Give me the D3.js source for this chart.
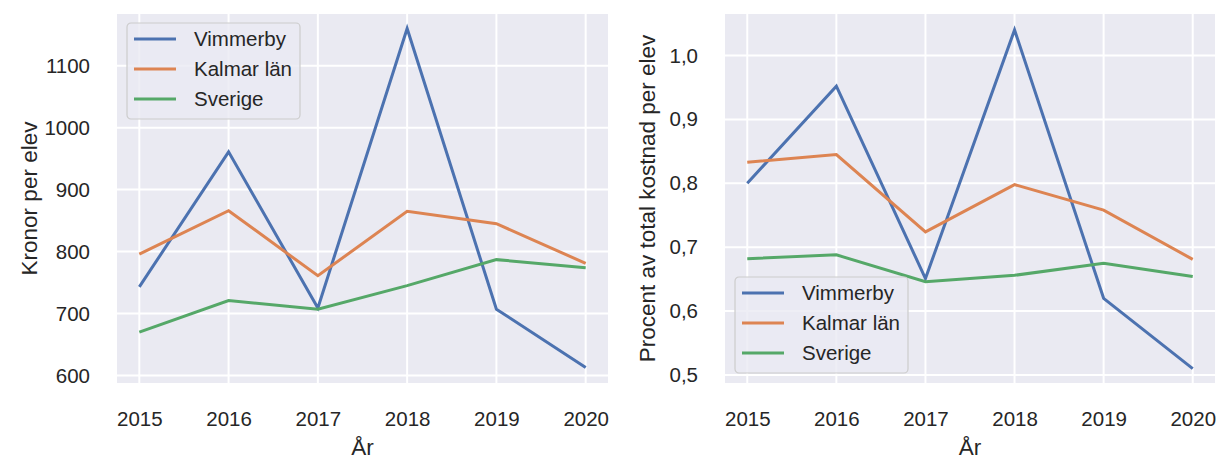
<!DOCTYPE html>
<html>
<head>
<meta charset="utf-8">
<script src="https://cdn.jsdelivr.net/npm/d3@7"></script>
<style>
  body { margin: 0; background: #fff; }
  text { font-family: "Liberation Sans", Arial, sans-serif; fill: #262626; }
</style>
</head>
<body>
<div id="chart"></div>
<script>
const years = [2015, 2016, 2017, 2018, 2019, 2020];
const seriesNames = ["Vimmerby", "Kalmar län", "Sverige"];

const kronorVimmerby = [743, 961, 709, 1160, 707, 613];
const kronorKalmar = [796, 866, 761, 865, 845, 781];
const kronorSverige = [670, 721, 707, 745, 787, 774];

const procentVimmerby = [0.800, 0.952, 0.651, 1.040, 0.620, 0.510];
const procentKalmar = [0.833, 0.845, 0.724, 0.798, 0.758, 0.681];
const procentSverige = [0.682, 0.688, 0.646, 0.656, 0.675, 0.654];

const kronorTicks = [600, 700, 800, 900, 1000, 1100];
const procentTicks = [0.5, 0.6, 0.7, 0.8, 0.9, 1.0];

const colors = ["#4c72b0", "#dd8452", "#55a868"];

const svg = d3.select("#chart")
  .append("svg")
  .attr("width", 1218)
  .attr("height", 461);

function drawPanel(opts) {
  const g = svg.append("g");
  const left = opts.left, right = opts.right, top = 14, bottom = 383;

  const x = d3.scaleLinear()
    .domain([2014.75, 2020.25])
    .range([left, right]);

  const y = d3.scaleLinear()
    .domain(opts.yDomain)
    .range(opts.yRange);

  g.append("rect")
    .attr("x", left).attr("y", top)
    .attr("width", right - left).attr("height", bottom - top)
    .attr("fill", "#eaeaf2");

  // grid
  g.selectAll(".vgrid").data(years).join("line")
    .attr("x1", d => x(d)).attr("x2", d => x(d))
    .attr("y1", top).attr("y2", bottom)
    .attr("stroke", "#fff").attr("stroke-width", 2);

  g.selectAll(".hgrid").data(opts.ticks).join("line")
    .attr("x1", left).attr("x2", right)
    .attr("y1", d => y(d)).attr("y2", d => y(d))
    .attr("stroke", "#fff").attr("stroke-width", 2);

  // axes
  const xAxis = g.append("g")
    .attr("transform", `translate(0,${bottom})`)
    .call(d3.axisBottom(x).tickValues(years).tickFormat(d3.format("d")).tickSize(0).tickPadding(28));
  xAxis.select(".domain").remove();
  xAxis.selectAll("text").attr("font-size", 20.5).attr("fill", "#262626");

  const yAxis = g.append("g")
    .attr("transform", `translate(${left},0)`)
    .call(d3.axisLeft(y).tickValues(opts.ticks).tickFormat(opts.fmt).tickSize(0).tickPadding(27));
  yAxis.select(".domain").remove();
  yAxis.selectAll("text").attr("font-size", 20.5).attr("fill", "#262626");

  // axis labels
  g.append("text")
    .attr("x", (left + right) / 2).attr("y", 455)
    .attr("text-anchor", "middle")
    .attr("font-size", 22.5)
    .text("År");

  g.append("text")
    .attr("transform", `translate(${opts.labelX},${(top + bottom) / 2}) rotate(-90)`)
    .attr("text-anchor", "middle")
    .attr("font-size", 22.5)
    .text(opts.yLabel);

  // lines
  const line = d3.line()
    .x((d, i) => x(years[i]))
    .y(d => y(d));

  opts.series.forEach((values, k) => {
    g.append("path")
      .datum(values)
      .attr("fill", "none")
      .attr("stroke", colors[k])
      .attr("stroke-width", 3)
      .attr("stroke-linejoin", "miter")
      .attr("d", line);
  });

  // legend
  const lg = g.append("g").attr("transform", `translate(${opts.legendX},${opts.legendY})`);
  lg.append("rect")
    .attr("x", 0).attr("y", 0)
    .attr("width", 173).attr("height", 96)
    .attr("rx", 4)
    .attr("fill", "#eaeaf2").attr("fill-opacity", 0.8)
    .attr("stroke", "#cccccc").attr("stroke-width", 1.2);

  seriesNames.forEach((name, k) => {
    const ry = 16 + k * 30;
    lg.append("line")
      .attr("x1", 7).attr("x2", 49)
      .attr("y1", ry).attr("y2", ry)
      .attr("stroke", colors[k]).attr("stroke-width", 3);
    lg.append("text")
      .attr("x", 67).attr("y", ry + 7)
      .attr("font-size", 20.5)
      .text(name);
  });
}

drawPanel({
  left: 117, right: 608,
  yDomain: [600, 1100], yRange: [375.5, 65.7],
  ticks: kronorTicks,
  fmt: d3.format("d"),
  yLabel: "Kronor per elev",
  labelX: 37,
  series: [kronorVimmerby, kronorKalmar, kronorSverige],
  legendX: 127, legendY: 23
});

drawPanel({
  left: 725, right: 1215,
  yDomain: [0.5, 1.0], yRange: [375, 55.5],
  ticks: procentTicks,
  fmt: d => d3.format(".1f")(d).replace(".", ","),
  yLabel: "Procent av total kostnad per elev",
  labelX: 655,
  series: [procentVimmerby, procentKalmar, procentSverige],
  legendX: 735, legendY: 277
});
</script>
</body>
</html>
